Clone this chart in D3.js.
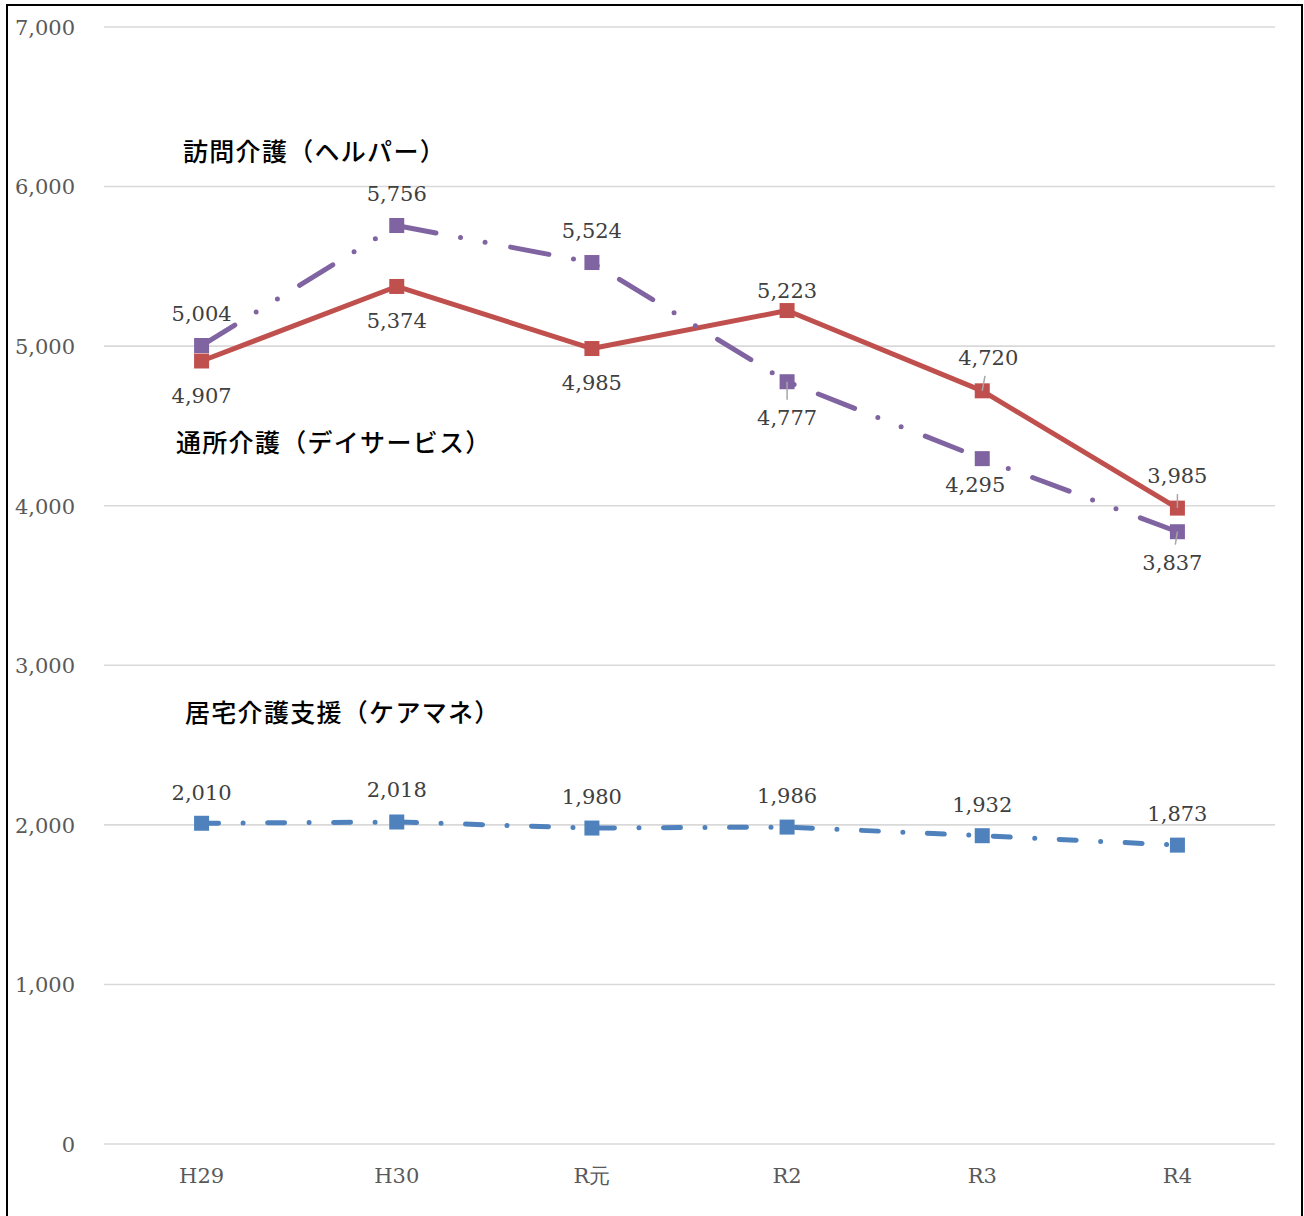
<!DOCTYPE html>
<html>
<head>
<meta charset="utf-8">
<script src="https://cdn.jsdelivr.net/npm/d3@7"></script>
<style>
  html, body { margin: 0; padding: 0; background: #fff; }
  svg { display: block; }
</style>
</head>
<body>
<svg id="chart" width="1304" height="1216"></svg>
<script>
// ---- data ----
const categories = ["H29", "H30", "R元", "R2", "R3", "R4"];
const helperValues = [5004, 5756, 5524, 4777, 4295, 3837];       // 訪問介護（ヘルパー）
const dayServiceValues = [4907, 5374, 4985, 5223, 4720, 3985];   // 通所介護（デイサービス）
const careManagerValues = [2010, 2018, 1980, 1986, 1932, 1873];  // 居宅介護支援（ケアマネ）
const seriesNames = ["訪問介護（ヘルパー）", "通所介護（デイサービス）", "居宅介護支援（ケアマネ）"];
const yTickValues = [0, 1000, 2000, 3000, 4000, 5000, 6000, 7000];
const yMax = 7000;

// ---- layout / style ----
const W = 1304, H = 1216;
const plot = { left: 104, right: 1275, top: 27, bottom: 1144 };
const numFont = "'DejaVu Serif', serif";
const jpFont = "'Noto Sans CJK JP', 'Noto Sans', sans-serif";

const svg = d3.select("#chart");
svg.append("rect").attr("x", 0).attr("y", 0).attr("width", W).attr("height", H).attr("fill", "#fff");

const x = d3.scaleBand().domain(categories).range([plot.left, plot.right]);
const xc = c => x(c) + x.bandwidth() / 2;
const y = d3.scaleLinear().domain([0, yMax]).range([plot.bottom, plot.top]);

// gridlines
svg.append("g").selectAll("line").data(yTickValues).join("line")
  .attr("x1", plot.left).attr("x2", plot.right)
  .attr("y1", d => y(d)).attr("y2", d => y(d))
  .attr("stroke", "#d9d9d9").attr("stroke-width", 1.6);

// y axis labels
const yAxis = d3.axisLeft(y).tickValues(yTickValues).tickFormat(d3.format(",")).tickSize(0).tickPadding(0);
const gy = svg.append("g").attr("transform", `translate(${plot.left - 29},0)`).call(yAxis);
gy.select(".domain").remove();
gy.selectAll("text").attr("font-family", numFont).attr("font-size", 21).attr("fill", "#595959")
  .attr("dy", "0.35em");

// x axis labels
const xAxis = d3.axisBottom(x).tickSize(0).tickPadding(0);
const gx = svg.append("g").attr("transform", `translate(0,${plot.bottom + 32})`).call(xAxis);
gx.select(".domain").remove();
gx.selectAll("text").attr("font-family", numFont).attr("font-size", 21).attr("fill", "#595959")
  .attr("dy", "0.35em");

// series definitions (style + label layout)
const series = [
  { values: dayServiceValues, color: "#C0504D", dash: null,
    labelOffsets: [[0, 35], [0, 34], [0, 34], [0, -20], [6, -33], [0, -32]],
    leaders: [false, false, false, false, true, true] },
  { values: helperValues, color: "#8064A2", dash: "39 25 0 25 0 26",
    labelOffsets: [[0, -32], [0, -32], [0, -32], [0, 36], [-7, 26], [-5, 31]],
    leaders: [false, false, false, true, false, true] },
  { values: careManagerValues, color: "#4F81BD", dash: "17 24.5 0 24.5",
    labelOffsets: [[0, -31], [0, -32], [0, -31], [0, -31], [0, -31], [0, -31]],
    leaders: [false, false, false, false, false, false] }
];

const line = d3.line().x((d, i) => xc(categories[i])).y(d => y(d));
const mk = 15;

series.forEach(s => {
  const g = svg.append("g");
  g.append("path").datum(s.values)
    .attr("d", line)
    .attr("fill", "none")
    .attr("stroke", s.color)
    .attr("stroke-width", 5)
    .attr("stroke-linecap", s.dash ? "round" : "butt")
    .attr("stroke-linejoin", "round")
    .attr("stroke-dasharray", s.dash);
  g.selectAll("rect").data(s.values).join("rect")
    .attr("x", (d, i) => xc(categories[i]) - mk / 2)
    .attr("y", d => y(d) - mk / 2)
    .attr("width", mk).attr("height", mk)
    .attr("fill", s.color);
});

// leader lines + data labels
const lab = svg.append("g");
series.forEach(s => {
  s.values.forEach((v, i) => {
    const cx = xc(categories[i]), cy = y(v);
    const [dx, dy] = s.labelOffsets[i];
    const lx = cx + dx, ly = cy + dy;
    if (s.leaders[i]) {
      const ey = ly - Math.sign(dy) * 18;
      const t = (ey - cy) / (ly - cy);
      lab.append("line")
        .attr("x1", cx).attr("y1", cy)
        .attr("x2", cx + dx * t).attr("y2", ey)
        .attr("stroke", "#a6a6a6").attr("stroke-width", 1.5);
    }
    lab.append("text")
      .attr("x", lx).attr("y", ly).attr("dy", "0.35em")
      .attr("text-anchor", "middle")
      .attr("font-family", numFont).attr("font-size", 21)
      .attr("fill", "#404040")
      .text(d3.format(",")(v));
  });
});

// series name annotations
const nameLayout = [[183, 152], [176, 443], [185, 713]];
const nameOrder = [0, 1, 2];
svg.append("g").selectAll("text").data(nameOrder).join("text")
  .attr("x", i => nameLayout[i][0]).attr("y", i => nameLayout[i][1])
  .attr("dy", "0.36em")
  .attr("font-family", jpFont).attr("font-size", 25).attr("font-weight", 500)
  .attr("letter-spacing", 1.3)
  .attr("fill", "#000")
  .text(i => seriesNames[i]);

// outer frame
svg.append("rect").attr("x", 7).attr("y", 5).attr("width", 1295).attr("height", 1240)
  .attr("fill", "none").attr("stroke", "#000").attr("stroke-width", 2);
</script>
</body>
</html>
